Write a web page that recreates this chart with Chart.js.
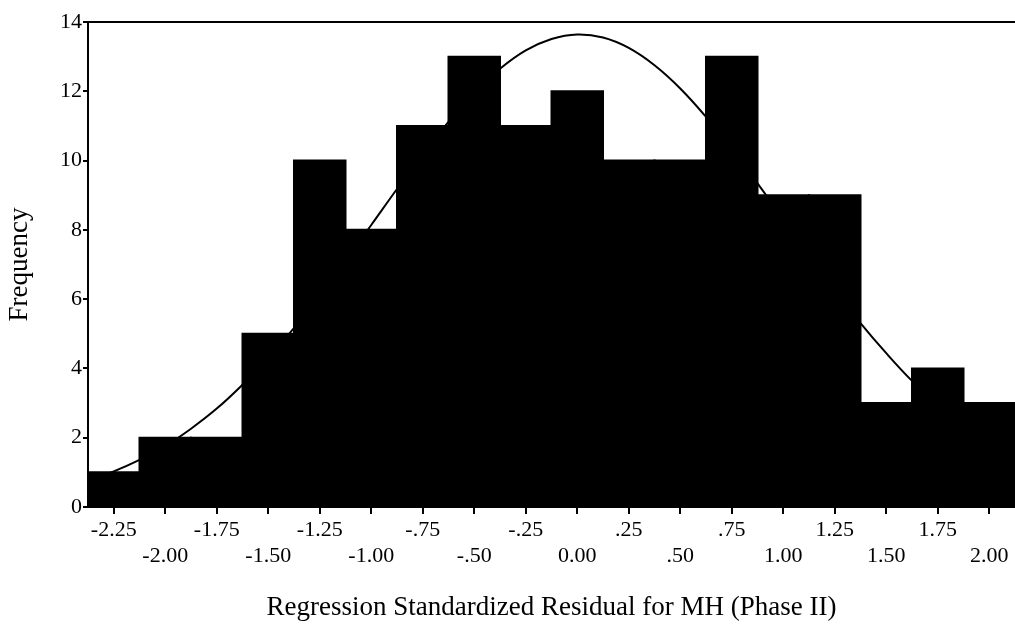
<!DOCTYPE html>
<html>
<head>
<meta charset="utf-8">
<script src="https://cdn.jsdelivr.net/npm/chart.js@4.4.1/dist/chart.umd.min.js"></script>
<style>
  html, body { margin: 0; padding: 0; background: #fff; }
  #wrap { width: 1015px; height: 628px; }
</style>
</head>
<body>
<div id="wrap"><canvas id="histChart" width="1015" height="628"></canvas></div>
<script>
// Histogram of regression standardized residuals (bin centres, width .25)
const binCenters = [-2.25, -2.00, -1.75, -1.50, -1.25, -1.00, -0.75, -0.50, -0.25,
                    0.00, 0.25, 0.50, 0.75, 1.00, 1.25, 1.50, 1.75, 2.00];
const frequencies = [1, 2, 2, 5, 10, 8, 11, 13, 11, 12, 10, 10, 13, 9, 9, 3, 4, 3];

// normal curve
const curveX = [-2.375, -2.25, -2.125, -2.0, -1.875, -1.75, -1.625, -1.5, -1.375, -1.25,
                -1.125, -1.0, -0.875, -0.75, -0.625, -0.5, -0.375, -0.25, -0.125, 0.0,
                0.125, 0.25, 0.375, 0.5, 0.625, 0.75, 0.875, 1.0, 1.125, 1.25,
                1.375, 1.5, 1.625, 1.75, 1.875, 2.0, 2.125];
const curveY = [0.77, 1.03, 1.36, 1.76, 2.26, 2.84, 3.53, 4.30, 5.17, 6.11,
                7.11, 8.14, 9.18, 10.18, 11.12, 11.96, 12.65, 13.18, 13.51, 13.64,
                13.55, 13.25, 12.75, 12.08, 11.26, 10.34, 9.34, 8.31, 7.27, 6.26,
                5.31, 4.44, 3.64, 2.95, 2.35, 1.84, 1.42];

const xTickValues = [-2.25, -2.00, -1.75, -1.50, -1.25, -1.00, -0.75, -0.50, -0.25,
                     0.00, 0.25, 0.50, 0.75, 1.00, 1.25, 1.50, 1.75, 2.00];
const xTickLabels = ["-2.25", "-2.00", "-1.75", "-1.50", "-1.25", "-1.00", "-.75", "-.50", "-.25",
                     "0.00", ".25", ".50", ".75", "1.00", "1.25", "1.50", "1.75", "2.00"];
const yTicks = [0, 2, 4, 6, 8, 10, 12, 14];

const FONT = "'Liberation Serif', 'Times New Roman', serif";
const X_MIN = -2.375, X_MAX = 2.125;

const canvas = document.getElementById("histChart");

new Chart(canvas.getContext("2d"), {
  type: "bar",
  data: {
    datasets: [
      {
        type: "line",
        label: "Normal",
        data: curveX.map((x, i) => ({ x, y: curveY[i] })),
        borderColor: "#000",
        borderWidth: 2,
        pointRadius: 0,
        tension: 0.4,
        fill: false,
        order: 0,
      },
      {
        type: "bar",
        label: "Frequency",
        data: binCenters.map((x, i) => ({ x, y: frequencies[i] })),
        backgroundColor: "#000",
        borderWidth: 0,
        inflateAmount: 1,
        barPercentage: 1.0,
        categoryPercentage: 1.0,
        order: 1,
      },
    ],
  },
  options: {
    responsive: false,
    devicePixelRatio: 1,
    animation: false,
    layout: { padding: { top: 22, right: 0, left: 0, bottom: 0 } },
    plugins: { legend: { display: false }, tooltip: { enabled: false } },
    scales: {
      x: {
        type: "linear",
        position: "bottom",
        min: X_MIN,
        max: X_MAX,
        offset: false,
        afterBuildTicks: (scale) => { scale.ticks = xTickValues.map(v => ({ value: v })); },
        afterFit: (scale) => { scale.height = 121; },
        ticks: {
          autoSkip: false,
          maxRotation: 0,
          minRotation: 0,
          padding: 3,
          color: "#000",
          font: { family: FONT, size: 22 },
          callback: (value, index) => {
            const lbl = xTickLabels[index];
            return index % 2 === 0 ? [lbl, ""] : ["", lbl];
          },
        },
        grid: { display: true, offset: false, drawOnChartArea: false, drawTicks: true, tickLength: 7, color: "#000", lineWidth: 2 },
        border: { display: true, color: "#000", width: 2 },
        title: {
          display: true,
          text: "Regression Standardized Residual for MH (Phase II)",
          color: "#000",
          font: { family: FONT, size: 27 },
          padding: { top: 0, bottom: 4 },
        },
      },
      xTop: {
        type: "linear",
        position: "top",
        min: X_MIN,
        max: X_MAX,
        offset: false,
        afterFit: (scale) => { scale.height = 0; },
        ticks: { display: false },
        grid: { display: false },
        border: { display: true, color: "#000", width: 2 },
      },
      y: {
        min: 0,
        max: 14,
        afterBuildTicks: (scale) => { scale.ticks = yTicks.map(v => ({ value: v })); },
        afterFit: (scale) => { scale.width = 88; },
        ticks: {
          padding: 1,
          color: "#000",
          font: { family: FONT, size: 22 },
        },
        grid: { display: true, drawOnChartArea: false, drawTicks: true, tickLength: 5, color: "#000", lineWidth: 2 },
        border: { display: true, color: "#000", width: 2 },
        title: {
          display: true,
          text: "Frequency",
          color: "#000",
          font: { family: FONT, size: 27 },
          padding: { top: 4, bottom: 0 },
        },
      },
    },
  },
});
</script>
</body>
</html>
